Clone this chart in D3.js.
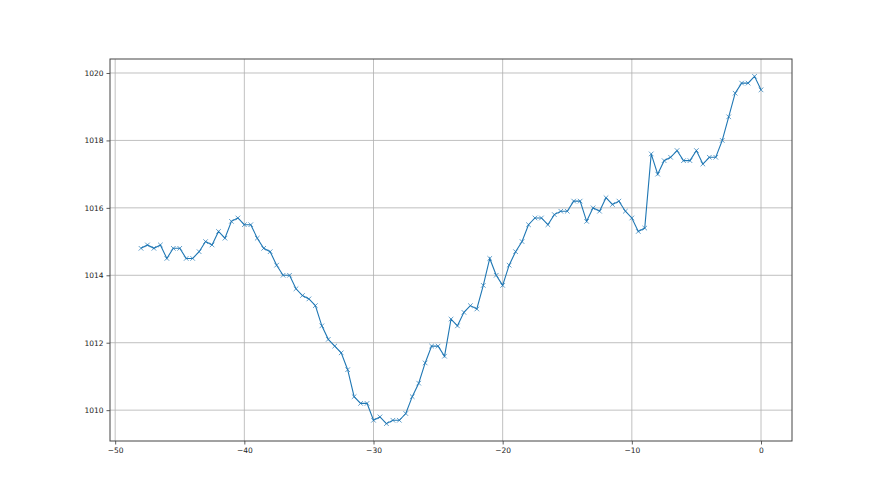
<!DOCTYPE html>
<html>
<head>
<meta charset="utf-8">
<script src="https://cdn.jsdelivr.net/npm/d3@7"></script>
<style>
  body { margin: 0; background: #fff; }
  svg { display: block; font-family: "DejaVu Sans", sans-serif; }
</style>
</head>
<body>
<script>
var size = { width: 880, height: 495 };
var margin = { top: 59, right: 88, bottom: 54, left: 110 };

// hours back, every half hour from -48 to 0
var hours = d3.range(-48, 0.01, 0.5);
var pressure = [
  1014.8, 1014.9, 1014.8, 1014.9, 1014.5, 1014.8, 1014.8, 1014.5, 1014.5, 1014.7,
  1015.0, 1014.9, 1015.3, 1015.1, 1015.6, 1015.7, 1015.5, 1015.5, 1015.1, 1014.8,
  1014.7, 1014.3, 1014.0, 1014.0, 1013.6, 1013.4, 1013.3, 1013.1, 1012.5, 1012.1,
  1011.9, 1011.7, 1011.2, 1010.4, 1010.2, 1010.2, 1009.7, 1009.8, 1009.6, 1009.7,
  1009.7, 1009.9, 1010.4, 1010.8, 1011.4, 1011.9, 1011.9, 1011.6, 1012.7, 1012.5,
  1012.9, 1013.1, 1013.0, 1013.7, 1014.5, 1014.0, 1013.7, 1014.3, 1014.7, 1015.0,
  1015.5, 1015.7, 1015.7, 1015.5, 1015.8, 1015.9, 1015.9, 1016.2, 1016.2, 1015.6,
  1016.0, 1015.9, 1016.3, 1016.1, 1016.2, 1015.9, 1015.7, 1015.3, 1015.4, 1017.6,
  1017.0, 1017.4, 1017.5, 1017.7, 1017.4, 1017.4, 1017.7, 1017.3, 1017.5, 1017.5,
  1018.0, 1018.7, 1019.4, 1019.7, 1019.7, 1019.9, 1019.5
];
var xTicks = [-50, -40, -30, -20, -10, 0];
var yTicks = [1010, 1012, 1014, 1016, 1018, 1020];

var data = hours.map(function(h, i) { return { x: h, y: pressure[i] }; });

var w = size.width - margin.left - margin.right;
var h = size.height - margin.top - margin.bottom;

// matplotlib style 5% padding
var xe = d3.extent(hours), ye = d3.extent(pressure);
var xp = (xe[1] - xe[0]) * 0.05, yp = (ye[1] - ye[0]) * 0.05;

var x = d3.scaleLinear().domain([xe[0] - xp, xe[1] + xp]).range([0, w]);
var y = d3.scaleLinear().domain([ye[0] - yp, ye[1] + yp]).range([h, 0]);

var svg = d3.select('body').append('svg')
  .attr('width', size.width)
  .attr('height', size.height);

var g = svg.append('g').attr('transform', 'translate(' + margin.left + ',' + margin.top + ')');

// grid
g.append('g').selectAll('line').data(xTicks).enter().append('line')
  .attr('x1', function(d) { return x(d); }).attr('x2', function(d) { return x(d); })
  .attr('y1', 0).attr('y2', h)
  .attr('stroke', '#b0b0b0').attr('stroke-width', 0.8);
g.append('g').selectAll('line').data(yTicks).enter().append('line')
  .attr('y1', function(d) { return y(d); }).attr('y2', function(d) { return y(d); })
  .attr('x1', 0).attr('x2', w)
  .attr('stroke', '#b0b0b0').attr('stroke-width', 0.8);

// axes
var xAxis = g.append('g').attr('transform', 'translate(0,' + h + ')')
  .call(d3.axisBottom(x).tickValues(xTicks).tickSize(3.5).tickPadding(3).tickFormat(d3.format('d')));
var yAxis = g.append('g')
  .call(d3.axisLeft(y).tickValues(yTicks).tickSize(3.5).tickPadding(3).tickFormat(d3.format('d')));

[xAxis, yAxis].forEach(function(a) {
  a.select('.domain').remove();
  a.selectAll('.tick line').attr('stroke', '#333').attr('stroke-width', 0.8);
  a.selectAll('.tick text').attr('fill', '#222').style('font-size', '7.5px')
    .style('font-family', '"DejaVu Sans", sans-serif');
});

// frame
g.append('rect').attr('x', 0).attr('y', 0).attr('width', w).attr('height', h)
  .attr('fill', 'none').attr('stroke', '#444').attr('stroke-width', 1);

// line
var line = d3.line().x(function(d) { return x(d.x); }).y(function(d) { return y(d.y); });
g.append('path').datum(data)
  .attr('d', line)
  .attr('fill', 'none')
  .attr('stroke', '#1f77b4')
  .attr('stroke-width', 1.1);

// x markers
var m = 2.3;
var marks = g.append('g').selectAll('path').data(data).enter().append('path')
  .attr('d', function(d) {
    var cx = x(d.x), cy = y(d.y);
    return 'M' + (cx - m) + ',' + (cy - m) + 'L' + (cx + m) + ',' + (cy + m) +
           'M' + (cx - m) + ',' + (cy + m) + 'L' + (cx + m) + ',' + (cy - m);
  })
  .attr('stroke', '#1f77b4')
  .attr('stroke-width', 0.7)
  .attr('fill', 'none');
</script>
</body>
</html>
